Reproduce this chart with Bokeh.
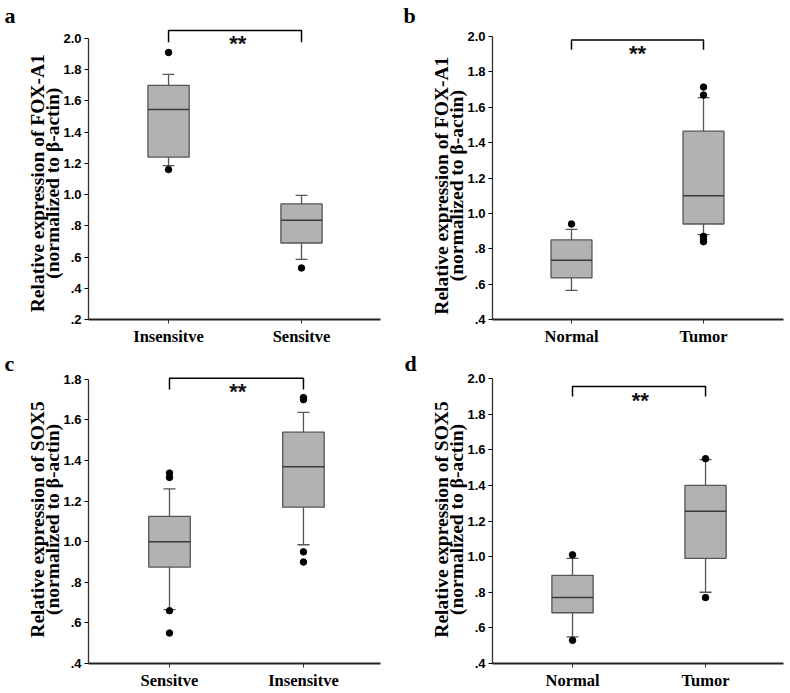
from bokeh.plotting import figure
from bokeh.layouts import column, row
from bokeh.models import Range1d, FixedTicker, Title
from bokeh.embed import file_html
from bokeh.resources import INLINE
from bokeh.core.properties import value

# ---------------- data ----------------
# panel a : FOX-A1, Insensitve vs Sensitve
a_groups = ["Insensitve", "Sensitve"]
a_q1 = [1.24, 0.69]
a_median = [1.545, 0.835]
a_q3 = [1.70, 0.94]
a_whisker_low = [1.185, 0.585]
a_whisker_high = [1.77, 0.995]
a_outliers = [[1.91, 1.16], [0.53]]

# panel b : FOX-A1, Normal vs Tumor
b_groups = ["Normal", "Tumor"]
b_q1 = [0.635, 0.94]
b_median = [0.735, 1.10]
b_q3 = [0.85, 1.465]
b_whisker_low = [0.565, 0.88]
b_whisker_high = [0.91, 1.655]
b_outliers = [[0.94], [1.714, 1.669, 0.87, 0.855, 0.84]]

# panel c : SOX5, Sensitve vs Insensitve
c_groups = ["Sensitve", "Insensitve"]
c_q1 = [0.875, 1.17]
c_median = [1.0, 1.37]
c_q3 = [1.125, 1.54]
c_whisker_low = [0.665, 0.985]
c_whisker_high = [1.26, 1.637]
c_outliers = [[1.338, 1.317, 0.66, 0.55], [1.71, 1.70, 0.95, 0.90]]

# panel d : SOX5, Normal vs Tumor
d_groups = ["Normal", "Tumor"]
d_q1 = [0.685, 0.99]
d_median = [0.77, 1.255]
d_q3 = [0.895, 1.40]
d_whisker_low = [0.55, 0.80]
d_whisker_high = [0.99, 1.545]
d_outliers = [[1.01, 0.53], [1.55, 0.77]]

# y-axis ticks
ticks_a = [0.2, 0.4, 0.6, 0.8, 1.0, 1.2, 1.4, 1.6, 1.8, 2.0]
tick_labels_a = [".2", ".4", ".6", ".8", "1.0", "1.2", "1.4", "1.6", "1.8", "2.0"]
ticks_b = [0.4, 0.6, 0.8, 1.0, 1.2, 1.4, 1.6, 1.8, 2.0]
tick_labels_b = [".4", ".6", ".8", "1.0", "1.2", "1.4", "1.6", "1.8", "2.0"]
ticks_c = [0.4, 0.6, 0.8, 1.0, 1.2, 1.4, 1.6, 1.8]
tick_labels_c = [".4", ".6", ".8", "1.0", "1.2", "1.4", "1.6", "1.8"]
ticks_d = ticks_b
tick_labels_d = tick_labels_b

title_fox = ["Relative expression of FOX-A1", "(normalized to \u03b2-actin)"]
title_sox = ["Relative expression of SOX5", "(normalized to \u03b2-actin)"]
significance = "**"

# ---------------- styles ----------------
SERIF = "Liberation Serif"
SANS = "Liberation Sans"
BOX_FILL = "#b2b2b2"
BOX_LINE = "#555555"
BOX_W = 0.31
CAP_W = 0.09
NBSP = "\u00a0"


def make_panel(letter, groups, q1, med, q3, wlo, whi, outs, ticks, tick_labels,
               titles, cfg):
    p = figure(width=cfg["w"], height=cfg["h"], output_backend="svg",
               toolbar_location=None, title=None,
               x_range=Range1d(*cfg["xr"]), y_range=Range1d(*cfg["yr"]),
               min_border_left=cfg["bl"], min_border_right=cfg["br"],
               min_border_top=cfg["bt"], min_border_bottom=cfg["bb"])
    p.background_fill_color = "white"
    p.border_fill_color = "white"
    p.outline_line_color = None
    p.xgrid.visible = False
    p.ygrid.visible = False

    xs = [1, 2]
    # whiskers
    p.segment(x0=xs, y0=q3, x1=xs, y1=whi, line_color=BOX_LINE, line_width=1.3)
    p.segment(x0=xs, y0=q1, x1=xs, y1=wlo, line_color=BOX_LINE, line_width=1.3)
    # caps
    p.segment(x0=[x - CAP_W / 2 for x in xs], y0=whi, x1=[x + CAP_W / 2 for x in xs], y1=whi,
              line_color=BOX_LINE, line_width=1.3)
    p.segment(x0=[x - CAP_W / 2 for x in xs], y0=wlo, x1=[x + CAP_W / 2 for x in xs], y1=wlo,
              line_color=BOX_LINE, line_width=1.3)
    # boxes
    p.vbar(x=xs, width=BOX_W, top=q3, bottom=q1, fill_color=BOX_FILL,
           line_color=BOX_LINE, line_width=1.3)
    # medians
    p.segment(x0=[x - BOX_W / 2 for x in xs], y0=med, x1=[x + BOX_W / 2 for x in xs], y1=med,
              line_color="#3a3a3a", line_width=1.5)
    # outliers
    ox, oy = [], []
    for x, vals in zip(xs, outs):
        for v in vals:
            ox.append(x)
            oy.append(v)
    p.scatter(ox, oy, size=6.5, color="black")

    # significance bracket
    by, bd = cfg["bracket"]
    p.line([1, 1, 2, 2], [bd, by, by, bd], line_color="black", line_width=1.5)
    p.text(x=[cfg["star_x"]], y=[cfg["star_y"]], text=[significance],
           text_font=value(SANS), text_font_style="bold", text_font_size="22px",
           text_align="center", text_baseline="top", text_color="#111111")

    # x axis
    xa = p.xaxis[0]
    xa.ticker = FixedTicker(ticks=xs)
    xa.major_label_overrides = {1: groups[0], 2: groups[1]}
    xa.major_label_text_font = SERIF
    xa.major_label_text_font_style = "bold"
    xa.major_label_text_font_size = "16.5px"
    xa.major_label_text_color = "black"
    xa.major_label_standoff = 3
    xa.major_tick_in = 0
    xa.major_tick_out = 4
    xa.minor_tick_line_color = None
    xa.axis_line_width = 2
    xa.axis_line_color = "#222222"
    xa.major_tick_line_color = "#333333"

    # y axis
    ya = p.yaxis[0]
    ya.ticker = FixedTicker(ticks=ticks)
    ya.major_label_overrides = {t: l for t, l in zip(ticks, tick_labels)}
    ya.bounds = (ticks[0], ticks[-1])
    ya.major_label_text_font = SANS
    ya.major_label_text_font_style = "bold"
    ya.major_label_text_font_size = "13px"
    ya.major_label_text_color = "black"
    ya.major_label_standoff = 3
    ya.major_tick_in = 0
    ya.major_tick_out = 4
    ya.minor_tick_line_color = None
    ya.axis_line_width = 1.3
    ya.axis_line_color = "#333333"
    pad = NBSP * cfg["title_pad"]
    ya.axis_label = titles[0] + pad + "\n" + titles[1] + pad
    ya.axis_label_text_font = SERIF
    ya.axis_label_text_font_style = "bold"
    ya.axis_label_text_font_size = "19.5px"
    ya.axis_label_text_color = "black"
    ya.axis_label_text_line_height = 0.72
    ya.axis_label_standoff = -3

    # panel letter
    p.add_layout(Title(text=letter, align="left", offset=cfg["letter_off"], standoff=0,
                       text_font=SERIF, text_font_style="bold",
                       text_font_size="22px", text_color="black"), "above")
    return p


cfg_a = dict(w=395, h=348, bl=88, br=15, bt=27, bb=27,
             xr=(0.398, 2.594), yr=(0.2, 2.070), bracket=(2.051, 1.975),
             star_x=1.52, star_y=2.045, letter_off=-84, title_pad=4)
cfg_b = dict(w=395, h=348, bl=97, br=7, bt=27, bb=27,
             xr=(0.4015, 2.606), yr=(0.4, 2.051), bracket=(1.98, 1.925),
             star_x=1.5, star_y=1.974, letter_off=-89, title_pad=5)
cfg_c = dict(w=395, h=344, bl=88, br=15, bt=27, bb=29,
             xr=(0.3955, 2.575), yr=(0.4, 1.819), bracket=(1.805, 1.75),
             star_x=1.51, star_y=1.80, letter_off=-84, title_pad=0)
cfg_d = dict(w=395, h=344, bl=97, br=7, bt=27, bb=27,
             xr=(0.3985, 2.586), yr=(0.4, 2.017), bracket=(1.955, 1.899),
             star_x=1.51, star_y=1.949, letter_off=-88, title_pad=0)

pa = make_panel("a", a_groups, a_q1, a_median, a_q3, a_whisker_low, a_whisker_high,
                a_outliers, ticks_a, tick_labels_a, title_fox, cfg_a)
pb = make_panel("b", b_groups, b_q1, b_median, b_q3, b_whisker_low, b_whisker_high,
                b_outliers, ticks_b, tick_labels_b, title_fox, cfg_b)
pc = make_panel("c", c_groups, c_q1, c_median, c_q3, c_whisker_low, c_whisker_high,
                c_outliers, ticks_c, tick_labels_c, title_sox, cfg_c)
pd = make_panel("d", d_groups, d_q1, d_median, d_q3, d_whisker_low, d_whisker_high,
                d_outliers, ticks_d, tick_labels_d, title_sox, cfg_d)

layout = column(row(pa, pb, spacing=0), row(pc, pd, spacing=0), spacing=0)
open("out.html", "w").write(file_html(layout, INLINE))
